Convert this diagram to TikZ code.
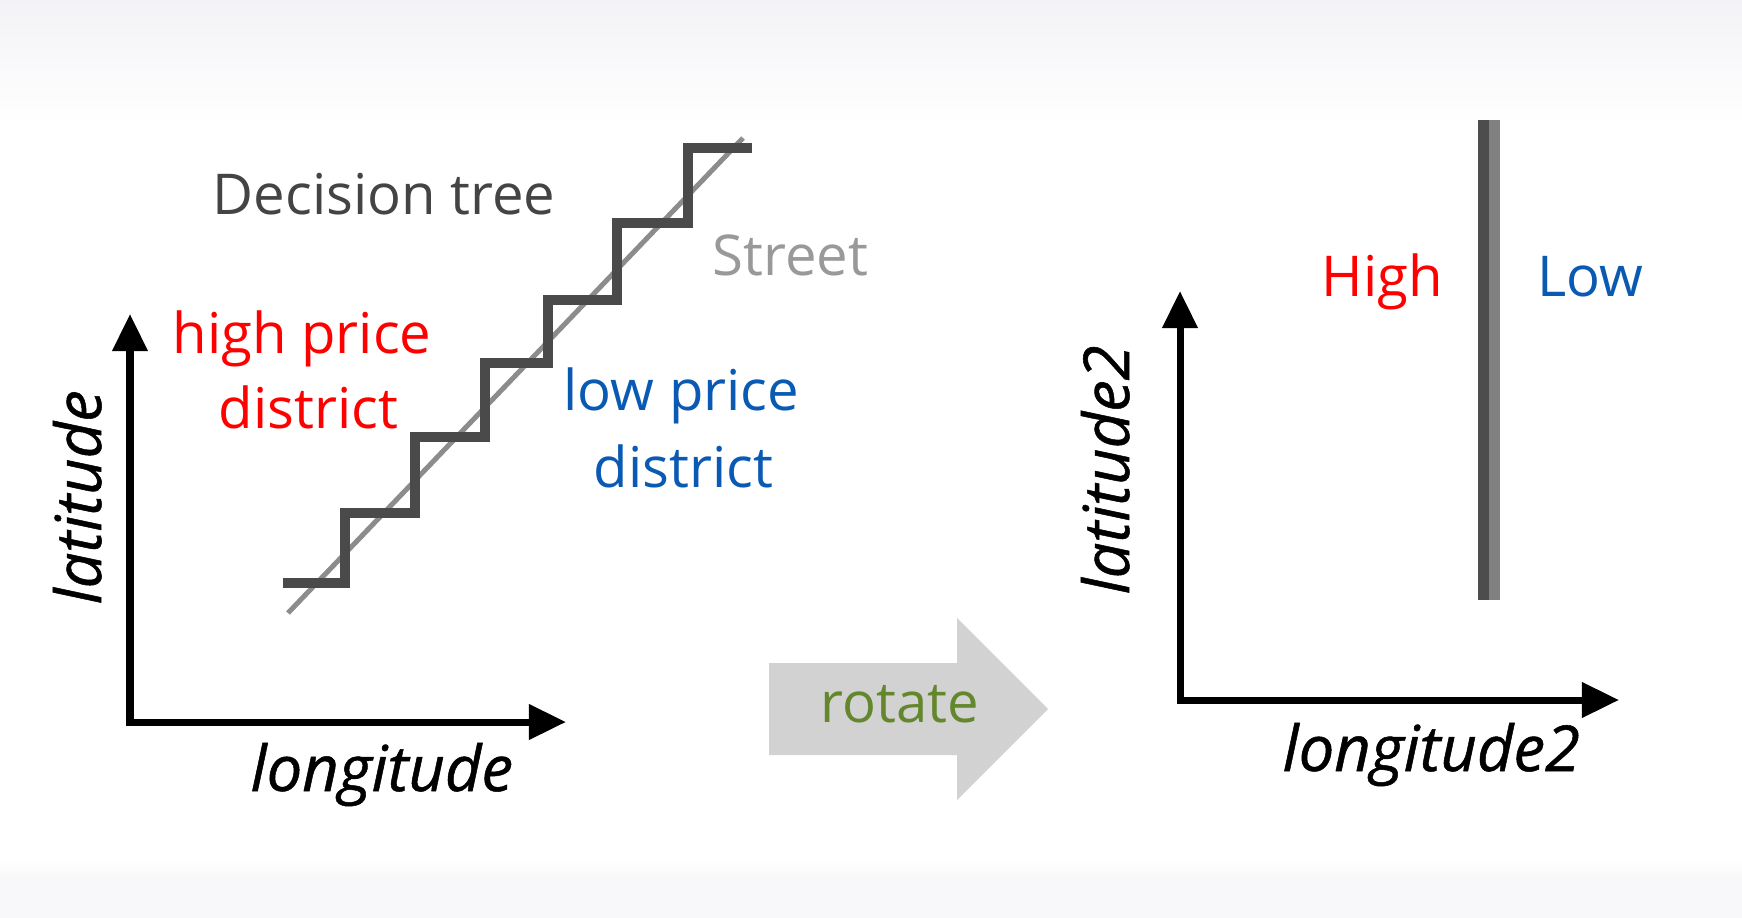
\documentclass[tikz,border=0pt]{standalone}
\usepackage{fontspec}
\setmainfont{Open Sans}
\usetikzlibrary{arrows.meta}
\definecolor{dtgray}{RGB}{68,68,68}
\definecolor{streetgray}{RGB}{153,153,153}
\definecolor{hired}{RGB}{255,0,0}
\definecolor{lowblue}{RGB}{10,90,180}
\definecolor{rotgreen}{RGB}{100,135,45}
\definecolor{arrowgray}{RGB}{210,210,210}
\definecolor{stairgray}{RGB}{74,74,74}
\definecolor{streetline}{RGB}{140,140,140}
\definecolor{bardark}{RGB}{77,77,77}
\definecolor{barlight}{RGB}{128,128,128}
\definecolor{bgtop}{RGB}{243,243,247}
\definecolor{bgbot}{RGB}{248,248,250}
\begin{document}
\begin{tikzpicture}[x=0.01cm,y=-0.01cm,
  lbl/.style={inner sep=0pt, anchor=base west, font=\fontsize{16}{19}\selectfont},
  axislbl/.style={inner sep=0pt, anchor=base west,
    font=\fontsize{18}{21}\selectfont\itshape\addfontfeatures{FakeBold=0.8}, text=black},
  axisline/.style={line width=0.07cm, line join=miter,
    {Triangle[length=0.37cm,width=0.34cm]}-{Triangle[length=0.37cm,width=0.34cm]}},
  stairline/.style={line width=0.10cm, draw=stairgray, line join=miter},
  streetstyle/.style={line width=0.05cm, draw=streetline},
]
\useasboundingbox (0,0) rectangle (1742,918);
% background bands
\fill[white] (0,0) rectangle (1742,918);
\shade[top color=bgtop, bottom color=white] (0,0) rectangle (1742,125);
\shade[top color=white, bottom color=bgbot] (0,860) rectangle (1742,878);
\fill[bgbot] (0,878) rectangle (1742,918);

% ---------- left plot ----------
\coordinate (o1) at (130,722);
\coordinate (y1) at (130,314);
\coordinate (x1) at (566,722);
\draw[axisline] (y1) -- (o1) -- (x1);

% street
\coordinate (sa) at (288,613);
\coordinate (sb) at (743,138);
\draw[streetstyle] (sa) -- (sb);

% staircase (decision tree boundary)
\draw[stairline] (283,583) -- (345,583) -- (345,513) -- (415,513) -- (415,437)
  -- (485,437) -- (485,363) -- (548,363) -- (548,300) -- (617,300) -- (617,223)
  -- (688,223) -- (688,148) -- (752,148);

\node[lbl, text=dtgray] (dt) at (212,214) {Decision tree};
\node[lbl, text=streetgray] (st) at (712,275) {Street};
\node[lbl, text=hired] (hp) at (172,353) {high price};
\node[lbl, text=hired] (hd) at (218,428) {district};
\node[lbl, text=lowblue] (lp) at (563,410) {low price};
\node[lbl, text=lowblue] (ld) at (593,487) {district};
\node[axislbl] (lon) at (250,791) {longitude};
\node[axislbl, rotate=90] (lat) at (101,605) {latitude};

% ---------- rotate arrow ----------
\fill[arrowgray] (769,663) -- (957,663) -- (957,618) -- (1048,709) -- (957,800)
  -- (957,755) -- (769,755) -- cycle;
\node[lbl, text=rotgreen] (rot) at (820,722) {rotate};

% ---------- right plot ----------
\coordinate (o2) at (1180,700);
\coordinate (y2) at (1180,291);
\coordinate (x2) at (1619,700);
\draw[axisline] (y2) -- (o2) -- (x2);

\fill[bardark] (1478,120) rectangle (1489,600);
\fill[barlight] (1489,120) rectangle (1500,600);

\node[lbl, text=hired] (hi) at (1321,296) {High};
\node[lbl, text=lowblue] (lo) at (1537,296) {Low};
\node[axislbl] (lon2) at (1282,771) {longitude2};
\node[axislbl, rotate=90] (lat2) at (1129,595) {latitude2};
\end{tikzpicture}
\end{document}
